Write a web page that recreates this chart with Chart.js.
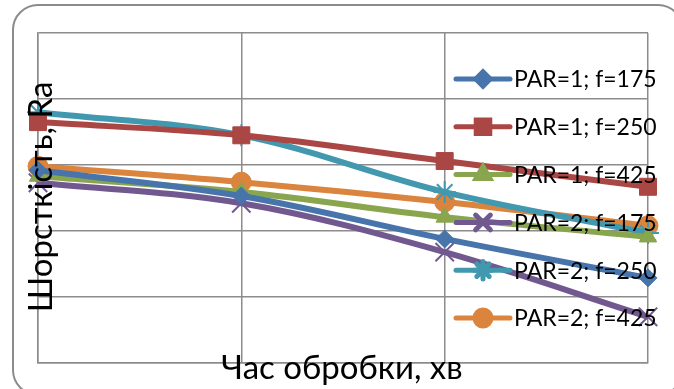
<!DOCTYPE html>
<html>
<head>
<meta charset="utf-8">
<script src="https://cdn.jsdelivr.net/npm/chart.js@4/dist/chart.umd.min.js"></script>
<style>
  html, body { margin: 0; padding: 0; background: #fff; overflow: hidden; }
  #marco { position: absolute; left: 12px; top: 4px; width: 672px; height: 392px;
           border: 2px solid #8c8c8c; border-radius: 26px; box-sizing: border-box; }
  #caja { position: absolute; left: 0; top: 0; width: 674px; height: 389px; }
</style>
</head>
<body>
<div id="marco"></div>
<div id="caja"><canvas id="myChart" width="674" height="389"></canvas></div>
<script>
// Datos
const categorias = ["1", "2", "3", "4"];
const par1f175 = [2.92, 2.53, 1.88, 1.29];
const par1f250 = [3.65, 3.45, 3.06, 2.67];
const par1f425 = [2.83, 2.59, 2.21, 1.91];
const par2f175 = [2.73, 2.42, 1.68, 0.70];
const par2f250 = [3.80, 3.45, 2.59, 1.97];
const par2f425 = [2.98, 2.74, 2.44, 2.08];
const etiquetas = ["PAR=1; f=175", "PAR=1; f=250", "PAR=1; f=425", "PAR=2; f=175", "PAR=2; f=250", "PAR=2; f=425"];

const colores = ["#4674ab", "#aa4643", "#89a54e", "#71588f", "#4198af", "#db843d"];
const estilos = ["rectRot", "rect", "triangle", "crossRot", "star", "circle"];
const radios = [9, 12, 10, 13, 11, 10];
const bordes = [1, 1, 1, 2, 2, 1];
const series = [par1f175, par1f250, par1f425, par2f175, par2f250, par2f425];

const datasets = series.map((data, i) => ({
    label: etiquetas[i],
    data,
    borderColor: colores[i],
    backgroundColor: colores[i],
    borderWidth: 6,
    tension: 0.35,
    pointStyle: estilos[i],
    pointRadius: radios[i],
    pointBorderWidth: bordes[i],
    pointBackgroundColor: colores[i],
    pointBorderColor: colores[i],
    clip: false
}));

// Leyenda y titulos de ejes dibujados encima, como en Excel
const leyenda = {
    id: "leyenda",
    afterDraw(chart) {
        const ctx = chart.ctx;
        ctx.save();
        ctx.fillStyle = "#000";
        ctx.font = "23px Lato";
        ctx.textBaseline = "middle";
        chart.data.datasets.forEach((ds, i) => {
            const y = 79 + i * 47.8;
            ctx.strokeStyle = ds.borderColor;
            ctx.lineWidth = 5;
            ctx.lineCap = "round";
            ctx.beginPath();
            ctx.moveTo(456, y);
            ctx.lineTo(510, y);
            ctx.stroke();
            ctx.fillStyle = ds.borderColor;
            Chart.helpers.drawPoint(ctx, {
                pointStyle: ds.pointStyle,
                radius: ds.pointRadius * 0.8,
                borderWidth: ds.pointBorderWidth
            }, 483, y);
            ctx.fillStyle = "#000";
            ctx.textAlign = "left";
            ctx.fillText(ds.label, 514, y + 1);
        });
        // titulo eje X
        ctx.font = "33px Lato";
        ctx.textAlign = "center";
        ctx.fillText("Час обробки, хв", 342, 368);
        // titulo eje Y
        ctx.translate(41, 197);
        ctx.rotate(-Math.PI / 2);
        ctx.fillText("Шорсткість, Ra", 0, 0);
        ctx.restore();
    }
};

const config = {
    type: "line",
    data: { labels: categorias, datasets },
    options: {
        responsive: false,
        animation: false,
        layout: { padding: { left: 38, right: 26, top: 33, bottom: 26 } },
        plugins: { legend: { display: false }, tooltip: { enabled: false } },
        scales: {
            x: {
                offset: false,
                grid: { color: "#8c8c8c", lineWidth: 1.5, drawTicks: false },
                border: { color: "#8c8c8c", width: 1.5 },
                ticks: { display: false }
            },
            y: {
                min: 0,
                max: 5,
                grid: { color: "#8c8c8c", lineWidth: 1.5, drawTicks: false },
                border: { color: "#8c8c8c", width: 1.5 },
                ticks: { display: false, stepSize: 1 }
            }
        }
    },
    plugins: [leyenda]
};

new Chart(document.getElementById("myChart"), config);
</script>
</body>
</html>
